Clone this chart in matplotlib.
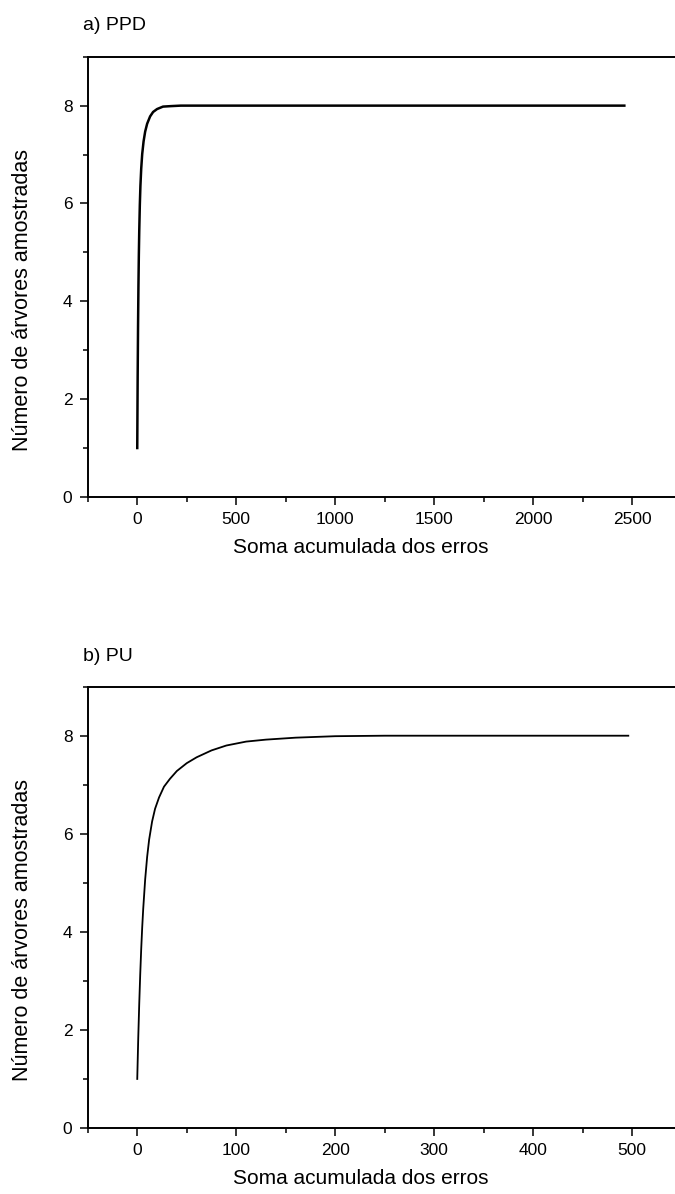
import matplotlib.pyplot as plt
from matplotlib.ticker import MultipleLocator

plt.rcParams['font.family'] = ['Liberation Sans', 'DejaVu Sans']

# curva a) PPD
x_ppd = [0, 2, 4, 6, 8, 10, 13, 16, 20, 25, 32, 40, 50, 65, 80, 100, 130, 170,
         220, 2460]
y_ppd = [1.0, 2.41, 3.49, 4.31, 4.94, 5.42, 5.97, 6.36, 6.71, 7.01, 7.27, 7.47,
         7.63, 7.78, 7.87, 7.93, 7.98, 7.99, 8.0, 8.0]

# curva b) PU
x_pu = [0, 1, 2, 3, 4, 5, 6, 8, 10, 12, 15, 18, 22, 27, 33, 40, 50, 60, 75, 90,
        110, 130, 160, 200, 250, 496]
y_pu = [1.0, 1.83, 2.53, 3.13, 3.65, 4.09, 4.46, 5.07, 5.53, 5.88, 6.25, 6.51,
        6.74, 6.96, 7.12, 7.28, 7.44, 7.56, 7.70, 7.80, 7.88, 7.92, 7.96, 7.99,
        8.0, 8.0]

fig = plt.figure(figsize=(6.75, 11.94), dpi=100)

ax1 = fig.add_axes([0.130, 0.5838, 0.880, 0.3687])
ax2 = fig.add_axes([0.130, 0.0553, 0.880, 0.3696])

ax1.plot(x_ppd, y_ppd, color='black', lw=1.8)
ax2.plot(x_pu, y_pu, color='black', lw=1.3)

ax1.set_xlim(-250, 2750)
ax2.set_xlim(-50, 550)
ax1.xaxis.set_major_locator(MultipleLocator(500))
ax1.xaxis.set_minor_locator(MultipleLocator(250))
ax2.xaxis.set_major_locator(MultipleLocator(100))
ax2.xaxis.set_minor_locator(MultipleLocator(50))

for ax in (ax1, ax2):
    ax.set_ylim(0, 9)
    ax.yaxis.set_major_locator(MultipleLocator(2))
    ax.yaxis.set_minor_locator(MultipleLocator(1))
    ax.spines['right'].set_visible(False)
    for s in ('left', 'bottom', 'top'):
        ax.spines[s].set_linewidth(1.4)
    ax.tick_params(which='major', direction='out', length=6, width=1.1,
                   labelsize=12.5, pad=5)
    ax.tick_params(which='minor', direction='out', length=3.5, width=1.1)
    ax.set_xlabel('Soma acumulada dos erros', fontsize=15)
    ax.set_ylabel('Número de árvores amostradas', fontsize=15.5)
    # rótulos deslocados como no layout original do Origin
    ax.xaxis.set_label_coords(0.46, -0.093)
    ax.yaxis.set_label_coords(-0.092, 0.448)

fig.text(0.123, 0.979, 'a) PPD', fontsize=14, va='center', ha='left')
fig.text(0.123, 0.450, 'b) PU', fontsize=14, va='center', ha='left')

fig.savefig('out.png', dpi=100)
